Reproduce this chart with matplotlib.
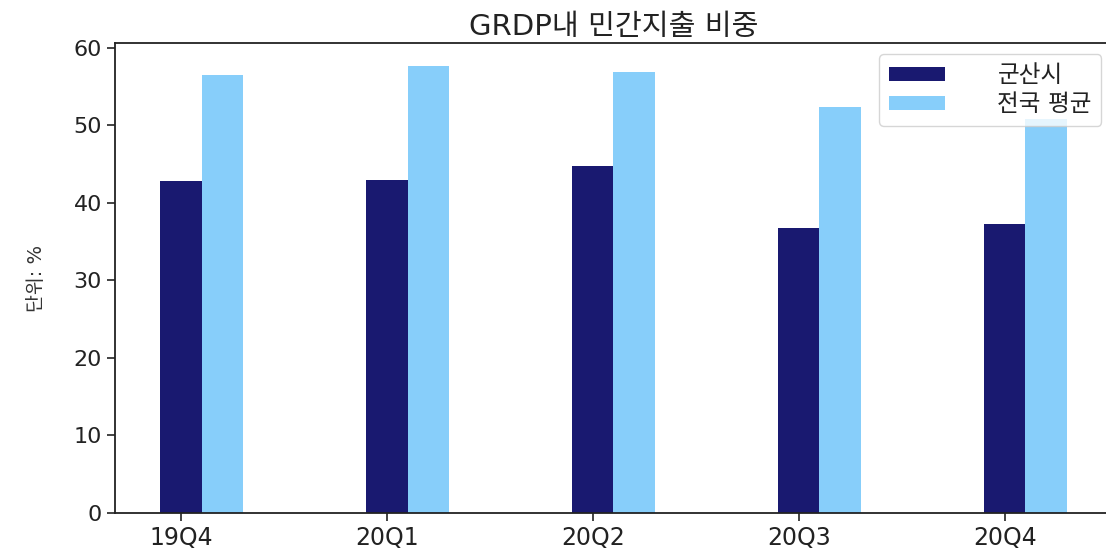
import matplotlib
matplotlib.use("Agg")
import matplotlib.pyplot as plt
import numpy as np

plt.rcParams["font.family"] = ["DejaVu Sans", "Noto Sans CJK KR"]

# --- Data ---
quarters = ["19Q4", "20Q1", "20Q2", "20Q3", "20Q4"]
gunsan = [42.8, 42.9, 44.8, 36.8, 37.3]
national_avg = [56.5, 57.7, 56.9, 52.3, 50.8]

BAR_W = 0.2

fig = plt.figure(figsize=(11.06, 5.55), dpi=100)
ax = fig.add_axes([0.104, 0.076, 0.9014, 0.846])

x = np.arange(len(quarters))
ax.bar(x, gunsan, width=BAR_W, color="#191970", label="군산시")
ax.bar(x + BAR_W, national_avg, width=BAR_W, color="#87CEFA", label="전국 평균")

ax.set_xticks(x)
ax.set_xticklabels(quarters)
ax.tick_params(axis="both", labelsize=16, length=6, width=1.2, colors="#222222")
ax.tick_params(axis="x", labelsize=17)
ax.set_ylabel("단위: %", fontsize=14, color="#333333", labelpad=20)
ax.set_title("GRDP내 민간지출 비중", fontsize=21, pad=6, color="#222222")
for sp in ax.spines.values():
    sp.set_linewidth(1.3)
    sp.set_color("#222222")

leg = ax.legend(loc="upper right", fontsize=17, handlelength=2.4, handleheight=0.55,
                handletextpad=2.2, labelspacing=0.2, borderpad=0.4,
                borderaxespad=0.45)
for t in leg.get_texts():
    t.set_color("#222222")

fig.savefig("out.png", dpi=100)
